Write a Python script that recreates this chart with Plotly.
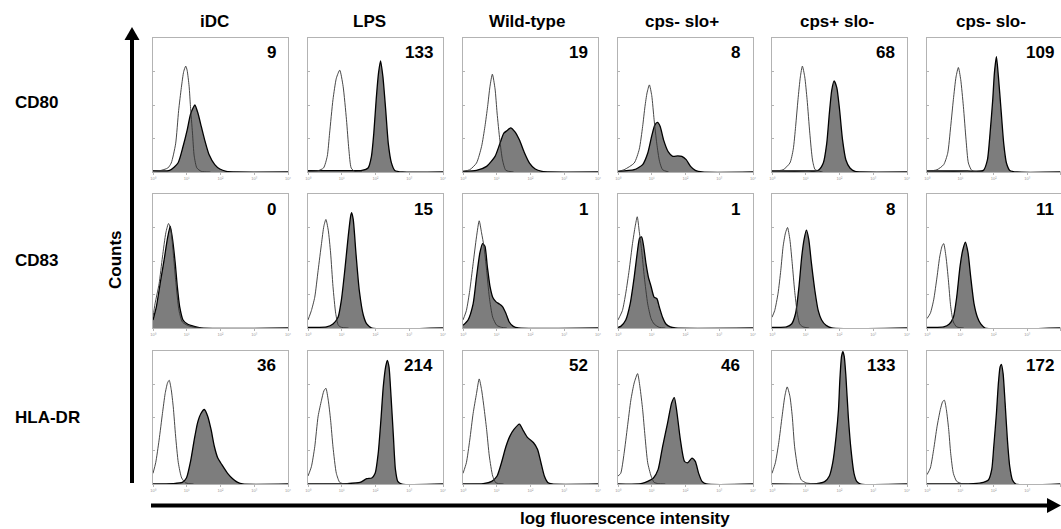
import plotly.graph_objects as go

# ---------------- data ----------------
CONDITIONS = ["iDC", "LPS", "Wild-type", "cps- slo+", "cps+ slo-", "cps- slo-"]
MARKERS = ["CD80", "CD83", "HLA-DR"]
MFI_CD80 = [9, 133, 19, 8, 68, 109]
MFI_CD83 = [0, 15, 1, 1, 8, 11]
MFI_HLADR = [36, 214, 52, 46, 133, 172]
DECADE_TICKS = [0, 1, 2, 3, 4]
DECADE_LABELS = ["10⁰", "10¹", "10²", "10³", "10⁴"]

# x = log10 fluorescence (decades), y = fraction of panel height
CD80_OPEN_X = [
    [0, 0.2, 0.44, 0.54, 0.67, 0.76, 0.84, 0.91, 0.97, 1.01, 1.07, 1.11, 1.17, 1.22, 1.30, 1.43, 1.7],
    [0, 0.3, 0.46, 0.57, 0.64, 0.74, 0.84, 0.94, 1.04, 1.14, 1.21, 1.28, 1.38, 1.6],
    [0, 0.20, 0.40, 0.55, 0.65, 0.73, 0.80, 0.87, 0.95, 1.01, 1.09, 1.17, 1.27, 1.5],
    [0, 0.18, 0.48, 0.63, 0.73, 0.80, 0.86, 0.93, 1.00, 1.07, 1.15, 1.23, 1.32, 1.5],
    [0, 0.33, 0.53, 0.63, 0.70, 0.77, 0.84, 0.90, 0.97, 1.04, 1.12, 1.20, 1.28, 1.5],
    [0, 0.30, 0.50, 0.62, 0.71, 0.79, 0.87, 0.94, 1.01, 1.09, 1.17, 1.24, 1.34, 1.5],
]
CD80_OPEN_Y = [
    [0.01, 0.01, 0.03, 0.067, 0.21, 0.46, 0.63, 0.75, 0.79, 0.76, 0.64, 0.49, 0.29, 0.12, 0.03, 0.005, 0],
    [0.005, 0.01, 0.03, 0.117, 0.29, 0.54, 0.70, 0.76, 0.64, 0.39, 0.17, 0.03, 0.005, 0],
    [0.005, 0.017, 0.067, 0.19, 0.34, 0.49, 0.64, 0.73, 0.62, 0.44, 0.24, 0.09, 0.012, 0],
    [0.005, 0.017, 0.067, 0.17, 0.34, 0.49, 0.59, 0.65, 0.57, 0.39, 0.21, 0.08, 0.017, 0],
    [0.005, 0.017, 0.067, 0.17, 0.34, 0.54, 0.71, 0.79, 0.71, 0.54, 0.29, 0.09, 0.017, 0],
    [0.005, 0.017, 0.055, 0.14, 0.34, 0.54, 0.71, 0.78, 0.69, 0.49, 0.24, 0.067, 0.012, 0],
]
CD80_FILL_X = [
    [0, 0.49, 0.74, 0.89, 1.01, 1.11, 1.19, 1.24, 1.33, 1.43, 1.53, 1.66, 1.83, 1.98, 2.17, 2.5, 4],
    [0, 1.0, 1.6, 1.78, 1.88, 1.95, 2.02, 2.09, 2.15, 2.22, 2.30, 2.38, 2.47, 2.57, 2.8, 4],
    [0, 0.40, 0.70, 0.95, 1.09, 1.21, 1.31, 1.41, 1.54, 1.67, 1.81, 1.97, 2.14, 2.34, 2.6, 4],
    [0, 0.48, 0.73, 0.88, 1.00, 1.09, 1.17, 1.25, 1.35, 1.49, 1.62, 1.77, 1.89, 2.02, 2.15, 2.29, 2.5, 4],
    [0, 1.0, 1.37, 1.52, 1.62, 1.70, 1.77, 1.84, 1.92, 2.00, 2.09, 2.19, 2.31, 2.46, 2.7, 4],
    [0, 1.2, 1.69, 1.81, 1.89, 1.97, 2.02, 2.08, 2.14, 2.22, 2.30, 2.38, 2.48, 2.7, 4],
]
CD80_FILL_Y = [
    [0.01, 0.012, 0.067, 0.19, 0.31, 0.43, 0.48, 0.50, 0.44, 0.34, 0.24, 0.13, 0.055, 0.022, 0.005, 0, 0],
    [0.01, 0.01, 0.012, 0.03, 0.117, 0.29, 0.54, 0.74, 0.83, 0.71, 0.47, 0.21, 0.07, 0.012, 0, 0],
    [0.005, 0.012, 0.042, 0.117, 0.21, 0.29, 0.31, 0.33, 0.30, 0.24, 0.15, 0.067, 0.022, 0.005, 0, 0],
    [0.005, 0.017, 0.055, 0.14, 0.27, 0.35, 0.37, 0.34, 0.24, 0.15, 0.117, 0.12, 0.117, 0.092, 0.042, 0.012, 0, 0],
    [0.008, 0.008, 0.012, 0.067, 0.21, 0.44, 0.61, 0.68, 0.63, 0.47, 0.24, 0.09, 0.03, 0.005, 0, 0],
    [0.008, 0.008, 0.012, 0.09, 0.29, 0.54, 0.74, 0.86, 0.71, 0.46, 0.21, 0.067, 0.012, 0, 0],
]

CD83_OPEN_X = [
    [0, 0.06, 0.18, 0.28, 0.38, 0.46, 0.53, 0.60, 0.67, 0.77, 0.87, 1.02, 1.17, 1.4],
    [0, 0.10, 0.20, 0.30, 0.40, 0.47, 0.53, 0.60, 0.67, 0.74, 0.82, 0.90, 0.99, 1.2],
    [0, 0.10, 0.20, 0.30, 0.40, 0.48, 0.55, 0.62, 0.70, 0.78, 0.88, 1.00, 1.14, 1.3],
    [0, 0.13, 0.23, 0.33, 0.43, 0.51, 0.57, 0.63, 0.70, 0.78, 0.88, 0.98, 1.07, 1.22, 1.4],
    [0, 0.08, 0.18, 0.26, 0.33, 0.40, 0.46, 0.53, 0.60, 0.67, 0.75, 0.82, 0.92, 1.1],
    [0, 0.10, 0.20, 0.30, 0.38, 0.45, 0.50, 0.57, 0.64, 0.71, 0.79, 0.89, 1.1],
]
CD83_OPEN_Y = [
    [0.08, 0.18, 0.33, 0.53, 0.71, 0.78, 0.73, 0.56, 0.36, 0.13, 0.045, 0.02, 0.008, 0],
    [0.06, 0.13, 0.23, 0.43, 0.63, 0.76, 0.81, 0.73, 0.56, 0.31, 0.11, 0.02, 0.005, 0],
    [0.06, 0.13, 0.28, 0.48, 0.68, 0.80, 0.71, 0.61, 0.43, 0.23, 0.08, 0.02, 0.005, 0],
    [0.06, 0.13, 0.26, 0.43, 0.63, 0.76, 0.83, 0.72, 0.58, 0.38, 0.18, 0.07, 0.03, 0.005, 0],
    [0.08, 0.13, 0.26, 0.43, 0.61, 0.71, 0.75, 0.66, 0.48, 0.28, 0.11, 0.03, 0.008, 0],
    [0.07, 0.11, 0.21, 0.38, 0.53, 0.61, 0.63, 0.53, 0.36, 0.16, 0.045, 0.008, 0],
]
CD83_FILL_X = [
    [0, 0.10, 0.23, 0.33, 0.43, 0.51, 0.58, 0.66, 0.72, 0.79, 0.89, 1.02, 1.22, 1.42, 4],
    [0, 0.55, 0.74, 0.89, 0.99, 1.09, 1.19, 1.26, 1.29, 1.34, 1.42, 1.52, 1.64, 1.74, 1.89, 4],
    [0, 0.15, 0.30, 0.40, 0.50, 0.58, 0.65, 0.72, 0.80, 0.88, 0.98, 1.07, 1.17, 1.27, 1.37, 1.49, 1.64, 4],
    [0, 0.08, 0.23, 0.36, 0.48, 0.58, 0.64, 0.70, 0.76, 0.83, 0.90, 0.98, 1.07, 1.15, 1.22, 1.32, 1.42, 1.55, 1.7, 4],
    [0, 0.43, 0.58, 0.70, 0.80, 0.88, 0.95, 1.02, 1.09, 1.17, 1.27, 1.37, 1.47, 1.60, 1.77, 4],
    [0, 0.50, 0.67, 0.79, 0.89, 0.99, 1.07, 1.15, 1.23, 1.31, 1.41, 1.51, 1.61, 1.74, 4],
]
CD83_FILL_Y = [
    [0.06, 0.16, 0.36, 0.51, 0.67, 0.76, 0.66, 0.48, 0.31, 0.16, 0.06, 0.03, 0.012, 0, 0],
    [0.005, 0.008, 0.03, 0.08, 0.21, 0.43, 0.68, 0.83, 0.86, 0.81, 0.56, 0.28, 0.095, 0.03, 0, 0],
    [0.02, 0.06, 0.18, 0.38, 0.56, 0.63, 0.61, 0.46, 0.31, 0.23, 0.195, 0.18, 0.16, 0.11, 0.045, 0.012, 0, 0],
    [0.005, 0.012, 0.06, 0.18, 0.38, 0.58, 0.67, 0.68, 0.61, 0.48, 0.38, 0.31, 0.23, 0.22, 0.16, 0.08, 0.03, 0.008, 0, 0],
    [0.005, 0.008, 0.03, 0.11, 0.31, 0.53, 0.66, 0.73, 0.66, 0.48, 0.28, 0.13, 0.06, 0.02, 0, 0],
    [0.005, 0.008, 0.03, 0.08, 0.23, 0.46, 0.58, 0.64, 0.56, 0.38, 0.18, 0.08, 0.03, 0, 0],
]

HLADR_OPEN_X = [
    [0, 0.08, 0.18, 0.28, 0.36, 0.43, 0.48, 0.54, 0.60, 0.67, 0.75, 0.85, 0.97, 1.2],
    [0, 0.10, 0.20, 0.30, 0.40, 0.47, 0.53, 0.60, 0.67, 0.74, 0.84, 0.94, 1.04, 1.2],
    [0, 0.10, 0.20, 0.30, 0.40, 0.48, 0.55, 0.62, 0.70, 0.78, 0.88, 0.98, 1.2],
    [0, 0.08, 0.18, 0.28, 0.38, 0.48, 0.58, 0.65, 0.73, 0.80, 0.88, 0.98, 1.07, 1.19, 1.4],
    [0, 0.10, 0.20, 0.30, 0.38, 0.45, 0.53, 0.60, 0.67, 0.77, 0.87, 1.02, 1.17, 1.4],
    [0, 0.10, 0.20, 0.30, 0.40, 0.47, 0.52, 0.58, 0.65, 0.71, 0.79, 0.89, 1.04, 1.2],
]
HLADR_OPEN_Y = [
    [0.08, 0.16, 0.33, 0.53, 0.68, 0.76, 0.78, 0.71, 0.58, 0.36, 0.16, 0.045, 0.008, 0],
    [0.06, 0.13, 0.28, 0.51, 0.63, 0.70, 0.72, 0.63, 0.48, 0.28, 0.08, 0.012, 0.003, 0],
    [0.08, 0.16, 0.33, 0.53, 0.68, 0.79, 0.71, 0.58, 0.41, 0.21, 0.06, 0.008, 0],
    [0.06, 0.08, 0.23, 0.43, 0.63, 0.76, 0.83, 0.73, 0.56, 0.36, 0.16, 0.06, 0.012, 0.003, 0],
    [0.08, 0.16, 0.31, 0.51, 0.66, 0.73, 0.66, 0.51, 0.28, 0.11, 0.03, 0.008, 0.003, 0],
    [0.07, 0.12, 0.26, 0.43, 0.56, 0.62, 0.63, 0.56, 0.41, 0.23, 0.08, 0.02, 0.003, 0],
]
HLADR_FILL_X = [
    [0, 0.58, 0.87, 0.99, 1.12, 1.22, 1.32, 1.42, 1.52, 1.62, 1.72, 1.82, 1.92, 2.04, 2.21, 2.36, 2.51, 2.66, 4],
    [0, 1.14, 1.54, 1.74, 1.89, 1.99, 2.08, 2.16, 2.23, 2.30, 2.35, 2.40, 2.46, 2.53, 2.59, 2.66, 2.78, 4],
    [0, 0.60, 0.85, 1.01, 1.14, 1.27, 1.39, 1.51, 1.67, 1.79, 1.91, 2.09, 2.21, 2.31, 2.41, 2.51, 2.64, 4],
    [0, 0.68, 0.88, 1.05, 1.19, 1.32, 1.47, 1.59, 1.67, 1.75, 1.85, 1.97, 2.07, 2.19, 2.29, 2.39, 2.49, 2.62, 4],
    [0, 1.32, 1.57, 1.70, 1.80, 1.90, 1.97, 2.01, 2.06, 2.10, 2.14, 2.19, 2.26, 2.34, 2.43, 2.51, 2.63, 4],
    [0, 1.39, 1.69, 1.84, 1.94, 2.00, 2.08, 2.14, 2.19, 2.23, 2.28, 2.34, 2.41, 2.48, 2.56, 2.66, 4],
]
HLADR_FILL_Y = [
    [0, 0.003, 0.012, 0.045, 0.18, 0.33, 0.46, 0.53, 0.56, 0.51, 0.41, 0.28, 0.195, 0.145, 0.08, 0.04, 0.012, 0, 0],
    [0, 0.003, 0.012, 0.04, 0.045, 0.08, 0.23, 0.48, 0.73, 0.88, 0.93, 0.88, 0.66, 0.36, 0.11, 0.02, 0, 0],
    [0, 0.003, 0.02, 0.06, 0.16, 0.28, 0.36, 0.41, 0.45, 0.40, 0.35, 0.31, 0.26, 0.16, 0.06, 0.012, 0, 0],
    [0, 0.003, 0.02, 0.045, 0.11, 0.28, 0.46, 0.61, 0.65, 0.53, 0.33, 0.17, 0.16, 0.195, 0.17, 0.08, 0.02, 0, 0],
    [0, 0.003, 0.02, 0.06, 0.16, 0.36, 0.56, 0.78, 0.96, 0.995, 0.96, 0.81, 0.51, 0.26, 0.08, 0.02, 0, 0],
    [0, 0.003, 0.012, 0.03, 0.11, 0.28, 0.53, 0.76, 0.88, 0.90, 0.83, 0.61, 0.33, 0.13, 0.03, 0, 0],
]

ROWS = [
    (CD80_OPEN_X, CD80_OPEN_Y, CD80_FILL_X, CD80_FILL_Y, MFI_CD80),
    (CD83_OPEN_X, CD83_OPEN_Y, CD83_FILL_X, CD83_FILL_Y, MFI_CD83),
    (HLADR_OPEN_X, HLADR_OPEN_Y, HLADR_FILL_X, HLADR_FILL_Y, MFI_HLADR),
]

# ---------------- layout geometry (pixels) ----------------
W, H = 1061, 529
PANEL_LEFT = [153, 308, 463, 618, 772, 927]
PANEL_W = 135
ROW_TOP = [38, 194, 351]
ROW_BOTTOM = [172, 328, 484]
TITLE_X = [214, 369, 527, 682, 837, 991]
NUM_RIGHT = [278, 435, 590, 742, 897, 1056]
ROW_LABEL_Y = [103, 260, 417]

def px(x):
    return x / W

def py(y):
    return 1 - y / H

FONT = "Liberation Sans, Arial, Helvetica, sans-serif"

fig = go.Figure()
layout = dict(
    width=W, height=H, margin=dict(l=0, r=0, t=0, b=0, autoexpand=False),
    paper_bgcolor="white", plot_bgcolor="white", showlegend=False,
)
annotations = []

k = 0
for r, (ox, oy, fx, fy, mfi) in enumerate(ROWS):
    for c in range(6):
        k += 1
        xa = "x" if k == 1 else f"x{k}"
        ya = "y" if k == 1 else f"y{k}"
        fig.add_trace(go.Scatter(
            x=fx[c], y=fy[c], xaxis=xa, yaxis=ya, mode="lines",
            line=dict(color="black", width=1.3, shape="spline", smoothing=0.6),
            fill="tozeroy", fillcolor="#7d7d7d", hoverinfo="skip",
        ))
        fig.add_trace(go.Scatter(
            x=ox[c], y=oy[c], xaxis=xa, yaxis=ya, mode="lines",
            line=dict(color="#333333", width=0.9, shape="spline", smoothing=0.6),
            hoverinfo="skip",
        ))
        x0 = PANEL_LEFT[c]
        x1 = min(x0 + PANEL_W, W - 0.5)
        axname = "xaxis" if k == 1 else f"xaxis{k}"
        ayname = "yaxis" if k == 1 else f"yaxis{k}"
        layout[axname] = dict(
            domain=[px(x0), px(x1)], anchor=ya, range=[0, 4],
            showgrid=False, zeroline=False, showline=True, mirror=True,
            linecolor="#b3b3b3", linewidth=1,
            tickmode="array", tickvals=DECADE_TICKS, ticktext=DECADE_LABELS,
            ticks="outside", ticklen=2, tickcolor="#b3b3b3",
            tickfont=dict(size=4, color="#999999", family=FONT),
        )
        layout[ayname] = dict(
            domain=[py(ROW_BOTTOM[r]), py(ROW_TOP[r])], anchor=xa, range=[0, 1.0],
            showgrid=False, zeroline=False, showline=True, mirror=True,
            linecolor="#b3b3b3", linewidth=1,
            tickmode="array", tickvals=[0.25, 0.5, 0.75], showticklabels=False,
            ticks="inside", ticklen=2, tickcolor="#b3b3b3",
        )
        annotations.append(dict(
            x=px(NUM_RIGHT[c]), y=py(ROW_TOP[r] + 15), xref="paper", yref="paper",
            text=str(mfi[c]), showarrow=False, xanchor="right", yanchor="middle",
            font=dict(family=FONT, size=17, color="black", weight="bold"),
        ))

for c, name in enumerate(CONDITIONS):
    annotations.append(dict(
        x=px(TITLE_X[c]), y=py(21), xref="paper", yref="paper", text=name,
        showarrow=False, xanchor="center", yanchor="middle",
        font=dict(family=FONT, size=17, color="black", weight="bold"),
    ))
for r, name in enumerate(MARKERS):
    annotations.append(dict(
        x=px(13), y=py(ROW_LABEL_Y[r]), xref="paper", yref="paper", text=name,
        showarrow=False, xanchor="left", yanchor="middle",
        font=dict(family=FONT, size=17, color="black", weight="bold"),
    ))
annotations.append(dict(
    x=px(115), y=py(260), xref="paper", yref="paper", text="Counts", textangle=-90,
    showarrow=False, xanchor="center", yanchor="middle",
    font=dict(family=FONT, size=17, color="black", weight="bold"),
))
annotations.append(dict(
    x=px(625), y=py(518), xref="paper", yref="paper", text="log fluorescence intensity",
    showarrow=False, xanchor="center", yanchor="middle",
    font=dict(family=FONT, size=17, color="black", weight="bold"),
))
layout["annotations"] = annotations

shapes = [
    dict(type="line", xref="paper", yref="paper", x0=px(132), x1=px(132), y0=py(483), y1=py(40),
         line=dict(color="black", width=4)),
    dict(type="path", xref="paper", yref="paper",
         path=f"M {px(124.5)},{py(40)} L {px(139.5)},{py(40)} L {px(132)},{py(27)} Z",
         fillcolor="black", line=dict(color="black", width=0)),
    dict(type="line", xref="paper", yref="paper", x0=px(151), x1=px(1048), y0=py(505.5), y1=py(505.5),
         line=dict(color="black", width=4)),
    dict(type="path", xref="paper", yref="paper",
         path=f"M {px(1047)},{py(498)} L {px(1047)},{py(513)} L {px(1061)},{py(505.5)} Z",
         fillcolor="black", line=dict(color="black", width=0)),
]
layout["shapes"] = shapes

fig.update_layout(**layout)
fig.write_html(
    "out.html",
    config={"displayModeBar": False},
    post_script="document.body.style.margin='0';document.body.style.overflow='hidden';",
)
